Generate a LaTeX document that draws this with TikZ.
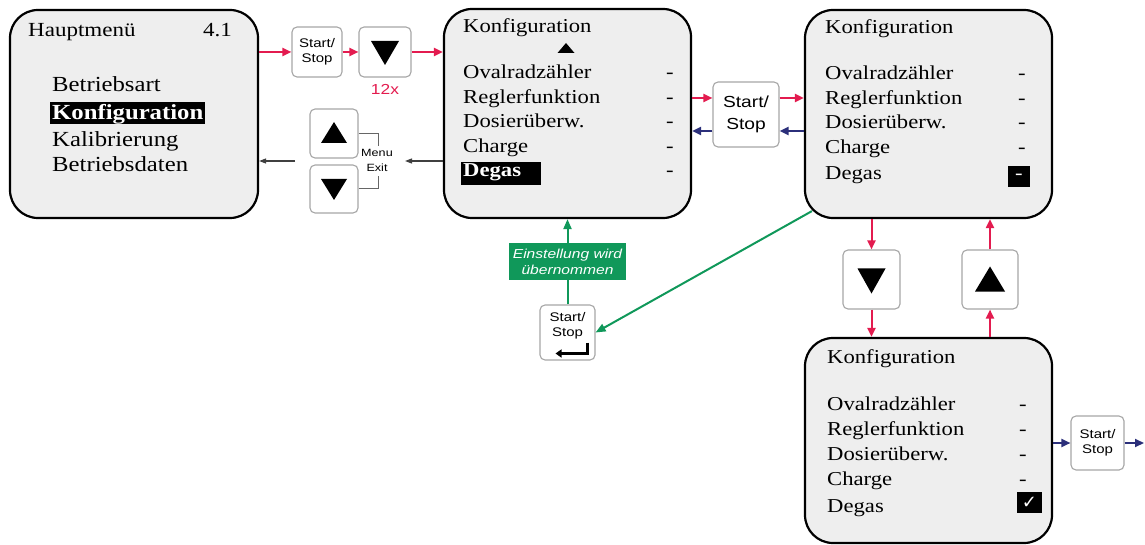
\documentclass[tikz,border=0pt]{standalone}
\usepackage{fontspec}
\setmainfont{Liberation Serif}
\setsansfont{Liberation Sans}
\newfontfamily\screenfont[FakeStretch=1.15]{Liberation Serif}
\newfontfamily\keyfont[FakeStretch=1.2]{Liberation Sans}
\newfontfamily\symfont{DejaVu Sans}
\usetikzlibrary{calc,arrows.meta}

\definecolor{keyred}{HTML}{E31B4F}
\definecolor{keyblue}{HTML}{2B2F7A}
\definecolor{okgreen}{HTML}{10985A}
\definecolor{screengray}{HTML}{EEEEEE}

\tikzset{
  screen/.style={draw, line width=2.2pt, rounded corners=28pt, fill=screengray, inner sep=0pt},
  key/.style={draw=gray!70, line width=1.1pt, rounded corners=5pt, fill=white, inner sep=0pt,
    align=center, font=\keyfont\fontsize{12.5}{15}\selectfont},
  keytxt/.style={inner sep=0pt, align=center, font=\keyfont\fontsize{12.5}{15}\selectfont},
  title/.style={anchor=base west, inner sep=0pt, font=\screenfont\fontsize{20}{20}\selectfont},
  item/.style={anchor=base west, inner sep=0pt, font=\screenfont\fontsize{19.7}{20}\selectfont},
  mitem/.style={anchor=base west, inner sep=0pt, font=\screenfont\fontsize{21.5}{22}\selectfont},
  dashmark/.style={anchor=base, inner sep=0pt, font=\screenfont\fontsize{19.7}{20}\selectfont},
  sel/.style={fill=black, text=white, inner xsep=2pt},
  redarr/.style={draw=keyred, line width=2pt, -{Triangle[length=9pt,width=8pt]}},
  bluearr/.style={draw=keyblue, line width=2pt, -{Triangle[length=9pt,width=8pt]}},
  greenarr/.style={draw=okgreen, line width=2pt, -{Triangle[length=10pt,width=8pt]}},
  backarr/.style={draw=black!75, line width=1.1pt, -{Triangle[length=7pt,width=5pt]}},
  bracket/.style={draw=black!60, line width=1pt},
  greenlbl/.style={fill=okgreen, text=white, inner sep=1pt, align=center,
    minimum width=117pt, minimum height=37pt, font=\keyfont\itshape\fontsize{13}{16}\selectfont}
}

\begin{document}
\begin{tikzpicture}[x=1pt, y=-1pt]
\useasboundingbox (0,0) rectangle (1145,545);

% Screens
\node[screen, minimum width=248pt, minimum height=208pt] (haupt) at (134,114) {};
\node[screen, minimum width=247pt, minimum height=209pt] (konf1) at (567.5,113.5) {};
\node[screen, minimum width=247pt, minimum height=208pt] (konf2) at (928.5,114) {};
\node[screen, minimum width=247pt, minimum height=205pt] (konf3) at (928.5,440.5) {};

% Hauptmenue
\node[title] (hTitle) at (28,37) {Hauptmenü};
\node[title] (hNum) at (203,37) {4.1};
\node[mitem] (hBetr) at (52,92) {Betriebsart};
\node[mitem, sel, text height=15pt, text depth=2pt, inner ysep=2.5pt] (hKonf) at (50,120) {\bfseries Konfiguration};
\node[mitem] (hKal) at (52,147) {Kalibrierung};
\node[mitem] (hDat) at (52,172) {Betriebsdaten};

% Konfiguration, Degas gewaehlt
\node[title, font=\screenfont\fontsize{19.7}{20}\selectfont] (k1Title) at (463,33) {Konfiguration};
\fill (557.5,53) -- (574.5,53) -- (566,43) -- cycle;
\node[item] (k1Oval) at (463,79) {Ovalradzähler};
\node[item] (k1Regl) at (463,104) {Reglerfunktion};
\node[item] (k1Dos) at (463,128) {Dosierüberw.};
\node[item] (k1Ch) at (463,153) {Charge};
\node[item, sel, text width=76pt, text height=13pt, text depth=6pt, inner ysep=2pt] (k1Deg) at (461,177) {\bfseries Degas};
\node[dashmark] (k1d1) at (670,79) {-};
\node[dashmark] (k1d2) at (670,104) {-};
\node[dashmark] (k1d3) at (670,128) {-};
\node[dashmark] (k1d4) at (670,153) {-};
\node[dashmark] (k1d5) at (670,177) {-};

% Konfiguration, Degas aus
\node[title, font=\screenfont\fontsize{19.7}{20}\selectfont] (k2Title) at (825,34) {Konfiguration};
\node[item] (k2Oval) at (825,80) {Ovalradzähler};
\node[item] (k2Regl) at (825,105) {Reglerfunktion};
\node[item] (k2Dos) at (825,129) {Dosierüberw.};
\node[item] (k2Ch) at (825,154) {Charge};
\node[item] (k2Deg) at (825,180) {Degas};
\node[dashmark] (k2d1) at (1022,80) {-};
\node[dashmark] (k2d2) at (1022,105) {-};
\node[dashmark] (k2d3) at (1022,129) {-};
\node[dashmark] (k2d4) at (1022,154) {-};
\node[fill=black, text=white, minimum width=22pt, minimum height=21pt, inner sep=0pt,
  font=\screenfont\fontsize{19.7}{20}\selectfont] (k2Mark) at (1019,176.5) {-};

% Konfiguration, Degas ein
\node[title, font=\screenfont\fontsize{19.7}{20}\selectfont] (k3Title) at (827,363) {Konfiguration};
\node[item] (k3Oval) at (827,410) {Ovalradzähler};
\node[item] (k3Regl) at (827,435) {Reglerfunktion};
\node[item] (k3Dos) at (827,460) {Dosierüberw.};
\node[item] (k3Ch) at (827,485) {Charge};
\node[item] (k3Deg) at (827,512) {Degas};
\node[dashmark] (k3d1) at (1023,410) {-};
\node[dashmark] (k3d2) at (1023,435) {-};
\node[dashmark] (k3d3) at (1023,460) {-};
\node[dashmark] (k3d4) at (1023,485) {-};
\node[fill=black, text=white, minimum width=25pt, minimum height=21pt, inner sep=0pt,
  font=\symfont\fontsize{18}{18}\selectfont] (k3Mark) at (1029.5,502.5) {✓};

% Keys
\node[key, minimum width=50pt, minimum height=50pt] (ss1) at (317,52) {Start/\\Stop};
\node[key, minimum width=52pt, minimum height=50pt] (dn1) at (385,52) {};
\fill ($(dn1)+(-14,-11)$) -- ++(28,0) -- ++(-14,24) -- cycle;
\node[keytxt, text=keyred, font=\keyfont\fontsize{14.5}{15}\selectfont] (rep) at (385,89) {12x};

\node[key, minimum width=48pt, minimum height=49pt] (up2) at (334,133.5) {};
\fill ($(up2)+(-13,9.5)$) -- ++(26,0) -- ++(-13,-21) -- cycle;
\node[key, minimum width=48pt, minimum height=48pt] (dn2) at (334,189) {};
\fill ($(dn2)+(-13,-10)$) -- ++(26,0) -- ++(-13,21) -- cycle;
\node[keytxt, font=\keyfont\fontsize{10.5}{15}\selectfont] (mexit) at (377,160) {Menu\\Exit};
\draw[bracket] (up2.east) -- ++(20,0) -- ++(0,13);
\draw[bracket] (dn2.east) -- ++(20,0) -- ++(0,-13);

\node[key, font=\keyfont\fontsize{16}{22}\selectfont, minimum width=66pt, minimum height=65pt] (ss2) at (746,114.5) {Start/\\Stop};

\node[key, minimum width=55pt, minimum height=55pt] (ss3) at (567.5,332.5) {};
\node[keytxt] (ss3txt) at (567.5,326) {Start/\\Stop};
\draw[line width=2.4pt, -{Triangle[length=6pt,width=8pt]}] ($(ss3)+(20,10)$) -- ++(0,11) -- ++(-32,0);

\node[key, minimum width=57pt, minimum height=59pt] (dn3) at (871.5,279.5) {};
\fill ($(dn3)+(-14,-11)$) -- ++(28,0) -- ++(-14,25) -- cycle;
\node[key, minimum width=56pt, minimum height=59pt] (up3) at (990,279.5) {};
\fill ($(up3)+(-15,12)$) -- ++(30,0) -- ++(-15,-25) -- cycle;

\node[key, minimum width=53pt, minimum height=54pt] (ss4) at (1097.5,443) {Start/\\Stop};

% Connectors
\draw[redarr] (haupt.east |- ss1) -- (ss1);
\draw[redarr] (ss1) -- (dn1);
\draw[redarr] (dn1) -- (dn1 -| konf1.west);

\coordinate (exitR) at (405,161);
\coordinate (exitL) at (295,161);
\draw[backarr] (konf1.west |- exitR) -- (exitR);
\draw[backarr] (exitL) -- (exitL -| haupt.east);

\coordinate (fwd) at ([yshift=16.5pt]ss2.west);
\coordinate (bwd) at ([yshift=-16.5pt]ss2.east);
\draw[redarr] (fwd -| konf1.east) -- (fwd);
\draw[redarr] (fwd -| ss2.east) -- (fwd -| konf2.west);
\draw[bluearr] (bwd -| konf2.west) -- (bwd);
\draw[bluearr] (bwd -| ss2.west) -- (bwd -| konf1.east);

\draw[redarr] (konf2.south -| dn3) -- (dn3);
\draw[redarr] (dn3) -- (dn3 |- konf3.north);
\draw[redarr] (konf3.north -| up3) -- (up3);
\draw[redarr] (up3) -- (up3 |- konf2.south);

\coordinate (out) at (1144,443);
\draw[bluearr] (konf3.east |- ss4) -- (ss4);
\draw[bluearr] (ss4) -- (out);

\draw[greenarr] ($(konf2.south west)+(8,-8)$) -- (ss3.east);
\draw[greenarr] (ss3.north) -- (konf1.south);
\node[greenlbl] (uebern) at (567.5,261.5) {Einstellung wird\\übernommen};
\end{tikzpicture}
\end{document}
